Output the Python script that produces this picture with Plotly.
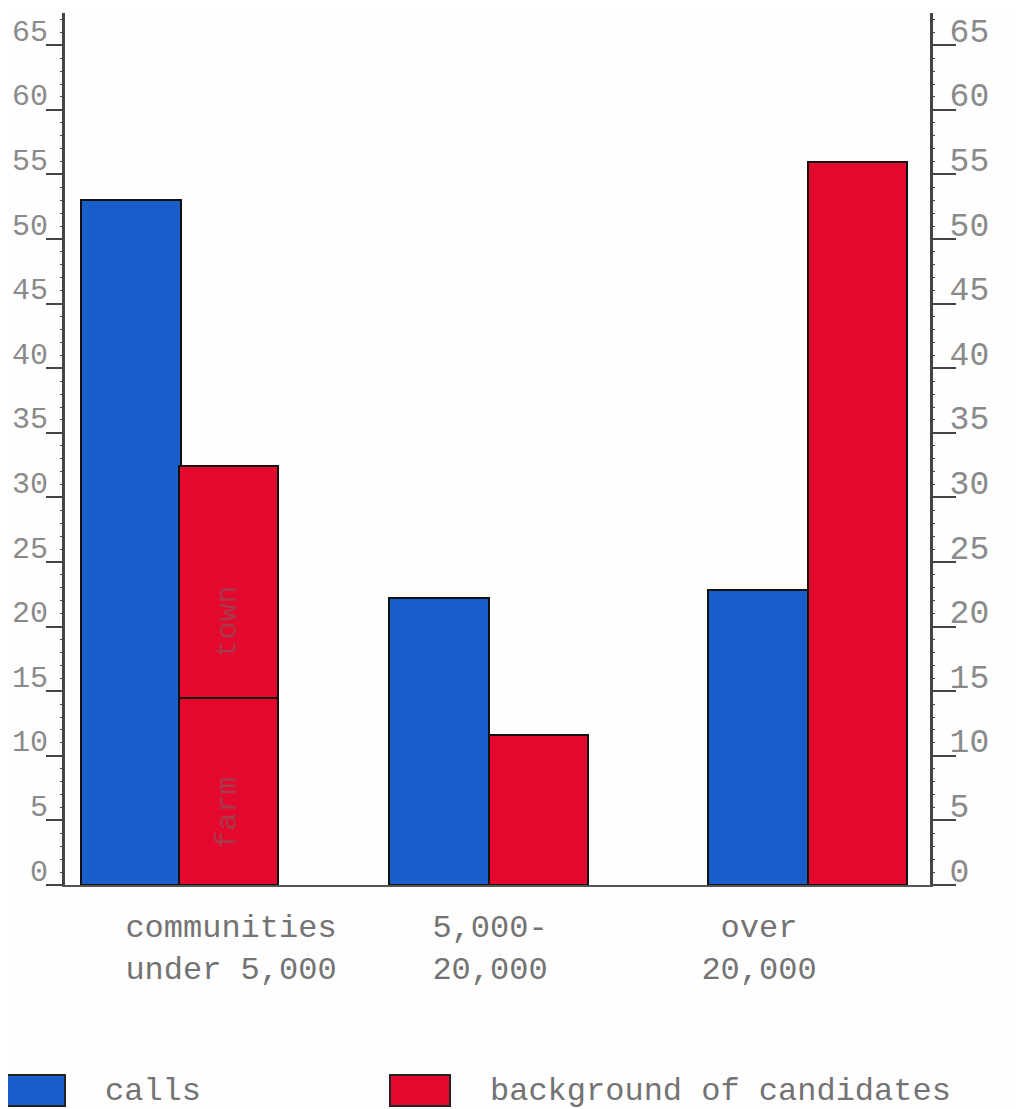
import plotly.graph_objects as go

# Values
groups = ["communities<br>under 5,000", "5,000-<br>20,000", "over<br>20,000"]
group_label_pos = [166, 425, 694]
calls_pos = [66, 374, 693]
background_pos = [163, 473, 792.5]
calls = [53.0, 22.2, 22.8]
background_base = [14.5, 11.6, 56.0]   # farm part in the first group
background_town = [17.9, None, None]   # town part in the first group
y_ticks = list(range(0, 70, 5))

BLUE = "#1a5ecb"
RED = "#e4072e"
GREY = "#8a8a8a"
TEXT = "#737373"
MONO = "Liberation Mono, DejaVu Sans Mono, monospace"

fig = go.Figure()
fig.add_bar(x=calls_pos, y=calls, name="calls", width=100,
            marker=dict(color=BLUE, line=dict(color="#111", width=2)))
fig.add_bar(x=background_pos, y=background_base, name="background of candidates", width=99,
            marker=dict(color=RED, line=dict(color="#111", width=2)))
fig.add_bar(x=background_pos, y=background_town, name="town", width=99, showlegend=False,
            marker=dict(color=RED, line=dict(color="#111", width=2)))

common_y = dict(
    range=[0, 67.5], tickvals=y_ticks, ticks="outside", tickwidth=2, automargin=False,
    tickcolor="#444", showline=True, linecolor="#444", linewidth=3, showgrid=False, zeroline=False,
    minor=dict(dtick=1, ticks="outside", ticklen=2, tickwidth=1, tickcolor="#444", tick0=0),
)

W, H = 1014, 1101   # the page adds an 8 px margin
L, R, T, B = 57, 92, 5, 224
PW, PH = W - L - R, H - T - B

fig.update_layout(
    width=W, height=H, showlegend=False, barmode="stack",
    margin=dict(l=L, r=R, t=T, b=B),
    paper_bgcolor="#fefefe", plot_bgcolor="#fefefe",
    xaxis=dict(range=[0, 865], tickvals=group_label_pos, ticktext=groups, ticks="",
               showline=True, linecolor="#555", linewidth=2, showgrid=False, zeroline=False,
               automargin=False,
               tickfont=dict(family=MONO, size=32, color=TEXT), ticklabelstandoff=12),
    yaxis=dict(side="left", ticklen=16, ticklabelshift=-15, ticklabelstandoff=-8,
               tickfont=dict(family=MONO, size=30, color=GREY), **common_y),
    yaxis2=dict(side="right", overlaying="y", ticklen=23, ticklabelshift=-15,
                ticklabelstandoff=-13, tickfont=dict(family=MONO, size=33, color=GREY), **common_y),
)

# empty trace that keeps the right axis alive
fig.add_scatter(x=[None], y=[None], yaxis="y2", showlegend=False, hoverinfo="skip")

# labels written inside the first red bar
for word, yv in (("town", 20.4), ("farm", 5.6)):
    fig.add_annotation(x=background_pos[0], y=yv, text=word, textangle=-90, showarrow=False,
                       font=dict(family=MONO, size=30, color="#a8384a"))

# hand-drawn key below the chart (page pixels converted to plot fractions)
def px(v):
    return (v - 8 - L) / PW
def py(v):
    return (H - B - (v - 8)) / PH

key = [("calls", BLUE, 5, 65, 105), ("background of candidates", RED, 390, 450, 490)]
for label, colour, x0, x1, xt in key:
    fig.add_shape(type="rect", xref="paper", yref="paper", x0=px(x0), x1=px(x1),
                  y0=py(1106), y1=py(1075),
                  fillcolor=colour, line=dict(color="#222", width=2))
    fig.add_annotation(xref="paper", yref="paper", x=px(xt), y=py(1091), text=label,
                       showarrow=False, xanchor="left", xshift=-2, yanchor="middle",
                       font=dict(family=MONO, size=32, color=TEXT))

fig.write_html("out.html")
